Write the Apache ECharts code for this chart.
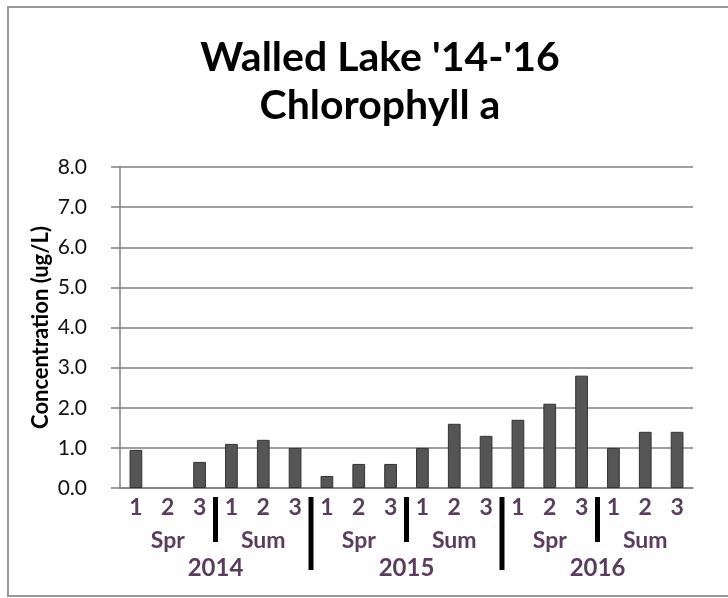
<!DOCTYPE html>
<html>
<head>
<meta charset="utf-8">
<title>Walled Lake Chlorophyll a</title>
<script src="https://cdn.jsdelivr.net/npm/echarts@6/dist/echarts.min.js"></script>
<style>
  html, body { margin: 0; padding: 0; background: #fff; }
  #chart { width: 728px; height: 598px; }
</style>
</head>
<body>
<div id="chart"></div>
<script>
// sample number within each season (3 per season, 2 seasons per year)
const samples = ['1', '2', '3', '1', '2', '3', '1', '2', '3', '1', '2', '3', '1', '2', '3', '1', '2', '3']
const seasons = ['Spr', 'Sum', 'Spr', 'Sum', 'Spr', 'Sum']
const years = ['2014', '2015', '2016']
// chlorophyll a, ug/L (null = no sample)
const chlorophyll = [0.95, null, 0.65, 1.1, 1.2, 1.0, 0.3, 0.6, 0.6, 1.0, 1.6, 1.3, 1.7, 2.1, 2.8, 1.0, 1.4, 1.4]
const yTicks = [0, 1, 2, 3, 4, 5, 6, 7, 8]
// category index where a new season / a new year starts
const seasonBreaks = [3, 9, 15]
const yearBreaks = [6, 12]

const labelColor = '#5a3c5c'
const font = 'Lato, "Open Sans", sans-serif'

const chart = echarts.init(document.getElementById('chart'))

// thick black divider below the axis, at the left edge of a category
const divider = (len) => (params, api) => {
  const c = api.coord([api.value(0), 0])
  const band = api.size([1, 0])[0]
  return {
    type: 'rect',
    shape: { x: c[0] - band / 2 - 2.5, y: c[1] + 9, width: 5, height: len },
    style: { fill: '#000' }
  }
}

const option = {
  animation: false,
  title: {
    text: "Walled Lake '14-'16\nChlorophyll a",
    left: 375,
    top: 29,
    textAlign: 'center',
    textStyle: {
      fontFamily: font,
      fontWeight: 'bold',
      fontSize: 41,
      lineHeight: 48,
      color: '#000'
    }
  },
  graphic: [
    {
      type: 'rect',
      shape: { x: 8, y: 7, width: 740, height: 589 },
      style: { fill: 'none', stroke: '#999', lineWidth: 2 },
      silent: true
    }
  ],
  grid: { left: 120, right: 35, top: 167, bottom: 110 },
  xAxis: [
    {
      type: 'category',
      data: samples,
      axisLine: { lineStyle: { color: '#808080', width: 1.5 } },
      axisTick: { show: false },
      axisLabel: { color: labelColor, fontFamily: font, fontWeight: 'bold', fontSize: 23, margin: 8, interval: 0 }
    },
    {
      type: 'category',
      data: seasons,
      position: 'bottom',
      offset: 37,
      axisLine: { show: false },
      axisTick: { show: false },
      axisLabel: { color: labelColor, fontFamily: font, fontWeight: 'bold', fontSize: 23, margin: 4, interval: 0 }
    },
    {
      type: 'category',
      data: years,
      position: 'bottom',
      offset: 64,
      axisLine: { show: false },
      axisTick: { show: false },
      axisLabel: { color: labelColor, fontFamily: font, fontWeight: 'bold', fontSize: 24, margin: 4, interval: 0 }
    }
  ],
  yAxis: {
    type: 'value',
    min: yTicks[0],
    max: yTicks[yTicks.length - 1],
    interval: 1,
    name: 'Concentration (ug/L)',
    nameLocation: 'middle',
    nameGap: 68,
    nameMoveOverlap: false,
    nameTextStyle: { fontFamily: font, fontWeight: 'bold', fontSize: 22, color: '#000' },
    axisLine: { show: true, lineStyle: { color: '#808080', width: 1.5 } },
    axisTick: { show: true, length: 9, lineStyle: { color: '#808080', width: 1.5 } },
    axisLabel: {
      color: '#111',
      fontFamily: font,
      fontSize: 21,
      margin: 33,
      formatter: (v) => v.toFixed(1)
    },
    splitLine: { lineStyle: { color: '#808080', width: 1.5 } }
  },
  series: [
    {
      type: 'bar',
      data: chlorophyll,
      barWidth: '40%',
      itemStyle: { color: '#555', borderColor: '#333', borderWidth: 1 }
    },
    {
      type: 'custom',
      data: seasonBreaks.map(i => [i, 0]),
      renderItem: divider(45),
      clip: false,
      silent: true
    },
    {
      type: 'custom',
      data: yearBreaks.map(i => [i, 0]),
      renderItem: divider(73),
      clip: false,
      silent: true
    }
  ]
}

chart.setOption(option)
</script>
</body>
</html>
